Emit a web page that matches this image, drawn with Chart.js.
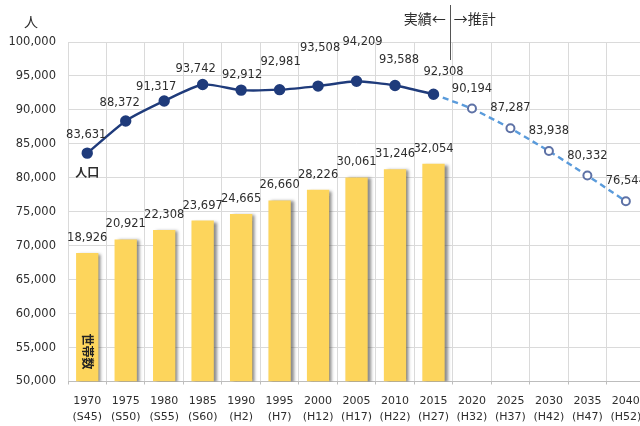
<!DOCTYPE html>
<html>
<head>
<meta charset="utf-8">
<script src="https://cdn.jsdelivr.net/npm/chart.js@4/dist/chart.umd.min.js"></script>
<style>
html,body{margin:0;padding:0;background:#fff;overflow:hidden;width:640px;height:426px;}
#wrap{position:relative;width:652px;height:426px;}
</style>
</head>
<body>
<div id="wrap"><canvas id="c"></canvas></div>
<script>
// ---- data ----
const years = ['1970','1975','1980','1985','1990','1995','2000','2005','2010','2015','2020','2025','2030','2035','2040'];
const eras = ['(S45)','(S50)','(S55)','(S60)','(H2)','(H7)','(H12)','(H17)','(H22)','(H27)','(H32)','(H37)','(H42)','(H47)','(H52)'];
const popActual = [83631, 88372, 91317, 93742, 92912, 92981, 93508, 94209, 93588, 92308];
const popForecast = [90194, 87287, 83938, 80332, 76544];
const households = [18926, 20921, 22308, 23697, 24665, 26660, 28226, 30061, 31246, 32054];
const yTicks = [50000, 55000, 60000, 65000, 70000, 75000, 80000, 85000, 90000, 95000, 100000];

// ---- derived tables ----
const labels = years.map((y, i) => [y, eras[i]]);
const actualSeries = years.map((_, i) => i < popActual.length ? popActual[i] : null);
const lastActualIdx = popActual.length - 1;
const forecastSeries = years.map((_, i) => {
  if (i < lastActualIdx) return null;
  if (i === lastActualIdx) return popActual[lastActualIdx];
  return popForecast[i - lastActualIdx - 1];
});
const householdSeries = years.map((_, i) => i < households.length ? households[i] : null);

const fmt = v => v.toLocaleString('en-US');
const numFont = '11.5px "DejaVu Sans", sans-serif';
const jpFont = '"Noto Sans CJK JP", sans-serif';
const textColor = '#2e2e2e';

// label placement offsets for the actual population labels (dx, dy)
const actualLabelOffsets = [[-1,-18],[-6,-18],[-8,-14],[-7,-15],[1,-15],[1,-28],[2,-38],[6,-39],[4,-26],[10,-22]];

const barShadow = {
  id: 'barShadow',
  beforeDatasetDraw(chart, args) {
    if (args.index === 0) {
      const ctx = chart.ctx;
      ctx.save();
      ctx.shadowColor = 'rgba(60,60,60,0.6)';
      ctx.shadowBlur = 3;
      ctx.shadowOffsetX = 3;
      ctx.shadowOffsetY = 1;
    }
  },
  afterDatasetDraw(chart, args) {
    if (args.index === 0) chart.ctx.restore();
  }
};

const labelsPlugin = {
  id: 'valueLabels',
  afterDatasetsDraw(chart) {
    const ctx = chart.ctx;
    ctx.save();
    ctx.font = numFont;
    ctx.fillStyle = textColor;
    ctx.textAlign = 'center';
    ctx.textBaseline = 'middle';
    // bars
    const mb = chart.getDatasetMeta(0);
    mb.data.forEach((el, i) => {
      if (householdSeries[i] == null) return;
      ctx.fillText(fmt(householdSeries[i]), el.x, el.y - 15);
    });
    // actual population
    const ma = chart.getDatasetMeta(1);
    ma.data.forEach((el, i) => {
      if (actualSeries[i] == null) return;
      const o = actualLabelOffsets[i] || [0, -18];
      ctx.fillText(fmt(actualSeries[i]), el.x + o[0], el.y + o[1]);
    });
    // forecast
    const mf = chart.getDatasetMeta(2);
    mf.data.forEach((el, i) => {
      if (forecastSeries[i] == null || i <= lastActualIdx) return;
      ctx.fillText(fmt(forecastSeries[i]), el.x, el.y - 20);
    });

    // series name labels
    const p0 = ma.data[0];
    ctx.font = 'bold 12px ' + jpFont;
    ctx.fillText('人口', p0.x, p0.y + 19);

    const b0 = mb.data[0];
    const area = chart.chartArea;
    ctx.save();
    ctx.translate(b0.x, area.bottom - 30);
    ctx.rotate(Math.PI / 2);
    ctx.font = 'bold 12px ' + jpFont;
    ctx.fillStyle = '#222';
    ctx.fillText('世帯数', 0, 0);
    ctx.restore();

    // unit
    ctx.font = '14px ' + jpFont;
    ctx.fillStyle = textColor;
    ctx.fillText('人', 31, 22);

    // actual / forecast divider
    const xs = chart.scales.x;
    const xd = (xs.getPixelForValue(lastActualIdx) + xs.getPixelForValue(lastActualIdx + 1)) / 2 - 3;
    ctx.strokeStyle = '#555';
    ctx.lineWidth = 1;
    ctx.beginPath();
    ctx.moveTo(Math.round(xd) + 0.5, 5);
    ctx.lineTo(Math.round(xd) + 0.5, 60);
    ctx.stroke();
    ctx.font = '14px ' + jpFont;
    ctx.textAlign = 'right';
    ctx.fillText('実績←', xd - 4, 19);
    ctx.textAlign = 'left';
    ctx.fillText('→推計', xd + 4, 19);
    ctx.restore();
  }
};

new Chart(document.getElementById('c'), {
  type: 'bar',
  data: {
    labels: labels,
    datasets: [
      {
        type: 'bar',
        label: '世帯数',
        data: householdSeries,
        yAxisID: 'y2',
        backgroundColor: '#FDD55C',
        borderWidth: 0,
        categoryPercentage: 1,
        barPercentage: 0.58,
        order: 3
      },
      {
        type: 'line',
        label: '人口',
        data: actualSeries,
        yAxisID: 'y',
        borderColor: '#1F3B7B',
        backgroundColor: '#1F3B7B',
        borderWidth: 2.4,
        pointRadius: 4.5,
        pointBackgroundColor: '#1F3B7B',
        pointBorderColor: '#1F3B7B',
        tension: 0.2,
        spanGaps: false,
        order: 1
      },
      {
        type: 'line',
        label: '推計',
        data: forecastSeries,
        yAxisID: 'y',
        borderColor: '#5A9BDB',
        borderWidth: 2.4,
        borderDash: [6, 4],
        pointRadius: years.map((_, i) => i <= lastActualIdx ? 0 : 4),
        pointBackgroundColor: '#ffffff',
        pointBorderColor: '#5E72A6',
        pointBorderWidth: 2,
        tension: 0.1,
        order: 2
      }
    ]
  },
  options: {
    responsive: true,
    maintainAspectRatio: false,
    animation: false,
    layout: { padding: { top: 42, right: 6, bottom: 0, left: 0 } },
    plugins: { legend: { display: false }, tooltip: { enabled: false } },
    scales: {
      x: {
        offset: true,
        grid: { offset: true, color: '#DADADA', lineWidth: 1, drawTicks: true, tickLength: 3, tickColor: '#BDBDBD' },
        border: { color: '#BDBDBD' },
        ticks: {
          color: textColor,
          font: { family: '"DejaVu Sans", sans-serif', size: 11, lineHeight: 1.45 },
          padding: 9,
          maxRotation: 0,
          autoSkip: false
        },
        afterFit(scale) { scale.height = 44.5; }
      },
      y: {
        min: 50000,
        max: 100000,
        afterBuildTicks(scale) { scale.ticks = yTicks.map(v => ({ value: v })); },
        grid: { color: '#DADADA', drawTicks: false },
        border: { display: false },
        ticks: {
          color: textColor,
          font: { family: '"DejaVu Sans", sans-serif', size: 11.5 },
          padding: 12,
          callback: v => fmt(v)
        },
        afterFit(scale) { scale.width = 68; }
      },
      y2: {
        display: false,
        min: 0,
        max: 50000
      }
    }
  },
  plugins: [barShadow, labelsPlugin]
});
</script>
</body>
</html>
